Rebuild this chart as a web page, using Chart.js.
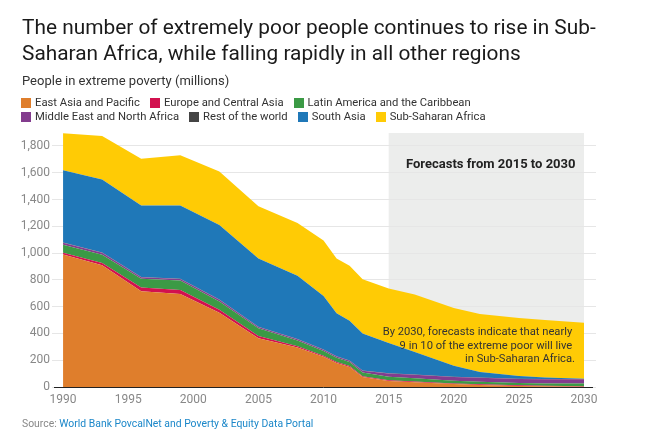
<!DOCTYPE html>
<html>
<head>
<meta charset="utf-8">
<script src="https://cdn.jsdelivr.net/npm/chart.js@4"></script>
<style>
  html, body { margin: 0; padding: 0; background: #fff; }
  body { width: 650px; height: 448px; position: relative; overflow: hidden; font-family: Roboto, sans-serif; }
  canvas { position: absolute; left: 0; top: 0; }
  .txt { position: absolute; white-space: nowrap; }
  #title { left: 22px; top: 14px; font-size: 20.85px; line-height: 26px; color: #1a1a1a; font-weight: 400; }
  #subtitle { left: 22px; top: 72px; font-size: 13px; line-height: 18px; color: #333; }
  .legend-row { position: absolute; left: 21px; display: flex; font-size: 11.25px; line-height: 14px; color: #333; white-space: nowrap; }
  .legend-row span { display: inline-flex; align-items: center; margin-right: 10px; }
  .legend-row i { width: 10px; height: 10px; margin-right: 4px; display: inline-block; }
  #forecast { left: 406px; top: 156px; font-size: 13px; line-height: 16px; font-weight: 700; color: #222; }
  #note { right: 75px; top: 325px; text-align: right; font-size: 11.2px; line-height: 13.7px; color: #333; }
  #source { left: 22px; top: 417px; font-size: 10.4px; line-height: 14px; color: #888; }
  #source a { text-decoration: none; color: #1b87c9; }
</style>
</head>
<body>
<canvas id="chart" width="650" height="448"></canvas>
<div class="txt" id="title">The number of extremely poor people continues to rise in Sub-<br>Saharan Africa, while falling rapidly in all other regions</div>
<div class="txt" id="subtitle">People in extreme poverty (millions)</div>
<div class="legend-row" id="legend1" style="top:96px"></div>
<div class="legend-row" id="legend2" style="top:110px"></div>
<div class="txt" id="forecast">Forecasts from 2015 to 2030</div>
<div class="txt" id="note">By 2030, forecasts indicate that nearly&nbsp;<br>9 in 10 of the extreme poor will live&nbsp;<br>in Sub-Saharan Africa.</div>
<div class="txt" id="source">Source: <a>World Bank PovcalNet and Poverty &amp; Equity Data Portal</a></div>
<script>
const years = [1990, 1993, 1996, 1999, 2002, 2005, 2008, 2010, 2011, 2012, 2013, 2015, 2017, 2020, 2022, 2025, 2027, 2030];

const eastAsia = [990, 910, 715, 695, 555, 365, 295, 225, 180, 150, 75, 45, 36, 22, 15, 8, 5, 2];
const europe = [12, 17, 28, 30, 22, 15, 10, 8, 7, 6, 5, 5, 5, 5, 5, 5, 4, 3];
const latinAmerica = [60, 60, 65, 70, 62, 58, 43, 36, 32, 30, 28, 27, 24, 20, 19, 17, 18, 22];
const middleEast = [15, 15, 12, 12, 12, 10, 9, 9, 9, 10, 14, 23, 26, 28, 30, 30, 31, 31];
const restOfWorld = [2, 2, 2, 2, 2, 2, 2, 2, 2, 2, 2, 2, 2, 2, 2, 2, 2, 2];
const southAsia = [540, 545, 533, 546, 557, 510, 471, 400, 320, 297, 276, 226, 168, 81, 41, 20, 11, 2];
const subSaharan = [276, 326, 350, 375, 400, 390, 395, 415, 410, 410, 405, 407, 429, 432, 433, 433, 429, 418];

const xTicks = [1990, 1995, 2000, 2005, 2010, 2015, 2020, 2025, 2030];
const yTicks = [0, 200, 400, 600, 800, 1000, 1200, 1400, 1600, 1800];
const forecastRange = [2015, 2030];

const series = [
  { label: 'East Asia and Pacific', values: eastAsia, color: '#df7e2c' },
  { label: 'Europe and Central Asia', values: europe, color: '#d2114f' },
  { label: 'Latin America and the Caribbean', values: latinAmerica, color: '#3b9a45' },
  { label: 'Middle East and North Africa', values: middleEast, color: '#833c8e' },
  { label: 'Rest of the world', values: restOfWorld, color: '#444444' },
  { label: 'South Asia', values: southAsia, color: '#1f78b8' },
  { label: 'Sub-Saharan Africa', values: subSaharan, color: '#ffcb05' },
];

// legend is two fixed rows, chart.js would wrap it differently
series.forEach((s, i) => {
  const row = document.getElementById(i < 3 ? 'legend1' : 'legend2');
  const item = document.createElement('span');
  item.innerHTML = `<i style="background:${s.color}"></i>${s.label}`;
  row.appendChild(item);
});

const forecastBand = {
  id: 'forecastBand',
  beforeDraw(chart) {
    const { ctx, chartArea, scales } = chart;
    const x0 = scales.x.getPixelForValue(forecastRange[0]);
    const x1 = scales.x.getPixelForValue(forecastRange[1]);
    ctx.save();
    ctx.fillStyle = '#ecedec';
    ctx.fillRect(x0, chartArea.top, x1 - x0, chartArea.bottom - chartArea.top);
    ctx.restore();
  },
};

const zeroLine = {
  id: 'zeroLine',
  afterDatasetsDraw(chart) {
    const { ctx, chartArea, scales } = chart;
    const y = Math.round(scales.y.getPixelForValue(0)) + 0.5;
    ctx.save();
    ctx.strokeStyle = '#222';
    ctx.lineWidth = 1;
    ctx.beginPath();
    ctx.moveTo(chartArea.left + 2, y);
    ctx.lineTo(chartArea.right - 3, y);
    ctx.stroke();
    ctx.restore();
  },
};

new Chart(document.getElementById('chart').getContext('2d'), {
  type: 'line',
  data: {
    datasets: series.map((s, i) => ({
      label: s.label,
      data: years.map((year, j) => ({ x: year, y: s.values[j] })),
      backgroundColor: s.color,
      borderColor: s.color,
      borderWidth: 0,
      pointRadius: 0,
      tension: 0,
      fill: i === 0 ? 'origin' : '-1',
    })),
  },
  options: {
    responsive: false,
    animation: false,
    devicePixelRatio: 1,
    layout: { padding: { left: 0, right: 54, top: 133, bottom: 0 } },
    plugins: { legend: { display: false }, tooltip: { enabled: false } },
    scales: {
      x: {
        type: 'linear',
        min: 1989.15,
        max: 2030.92,
        afterBuildTicks: (scale) => { scale.ticks = xTicks.map((v) => ({ value: v })); },
        afterFit: (scale) => { scale.height = 61; },
        grid: { display: false },
        border: { display: false },
        ticks: {
          autoSkip: false,
          maxRotation: 0,
          padding: -2,
          color: '#888',
          font: { family: 'Roboto', size: 12 },
          callback: (v) => String(v),
        },
      },
      y: {
        stacked: true,
        min: 0,
        max: 1897,
        afterBuildTicks: (scale) => { scale.ticks = yTicks.map((v) => ({ value: v })); },
        afterFit: (scale) => { scale.width = 52; },
        grid: { color: '#e6e6e6', drawTicks: false },
        border: { display: false },
        ticks: {
          padding: 2,
          color: '#888',
          font: { family: 'Roboto', size: 12 },
          callback: (v) => v.toLocaleString('en-US'),
        },
      },
    },
  },
  plugins: [forecastBand, zeroLine],
});
</script>
</body>
</html>
